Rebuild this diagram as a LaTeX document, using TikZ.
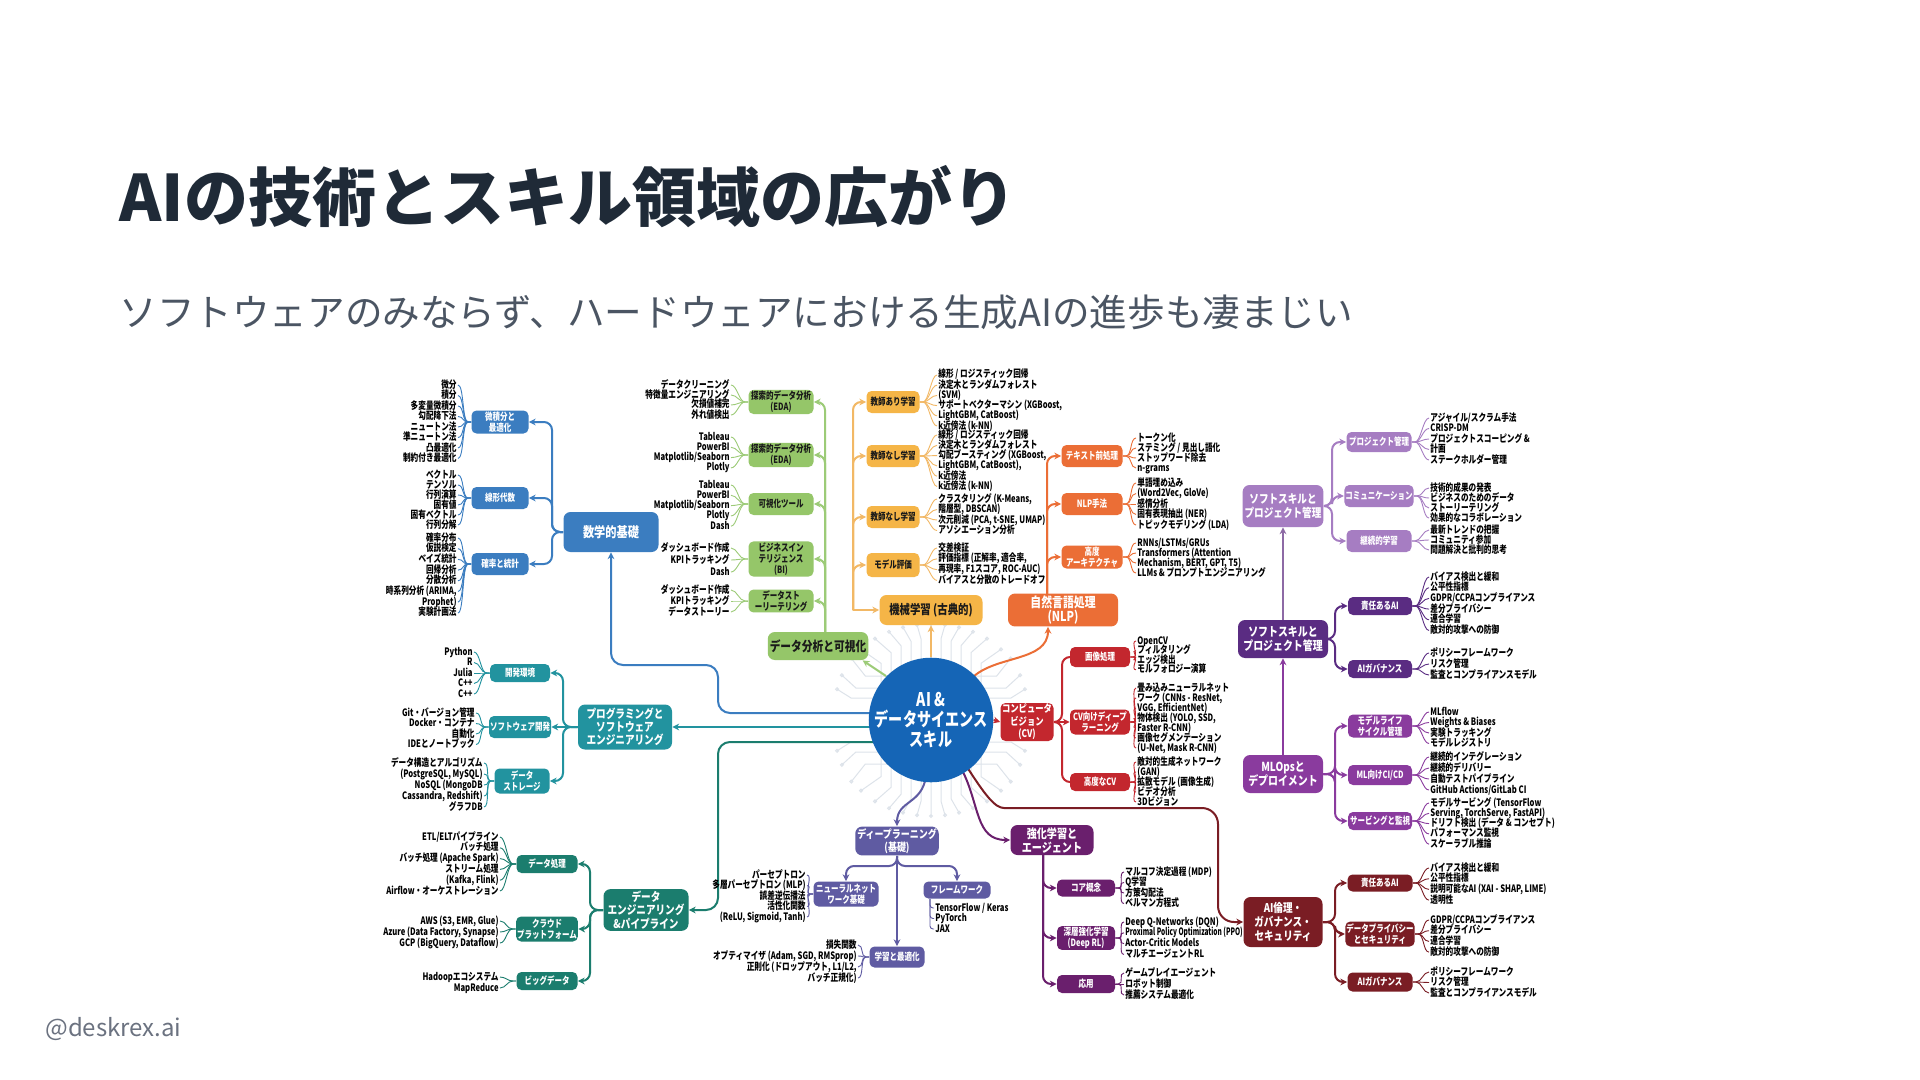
\documentclass[tikz,border=0pt]{standalone}
\usepackage{fontspec}
\setmainfont{Noto Sans CJK JP}
\newfontfamily\mapf[FakeStretch=0.75]{Noto Sans CJK JP}
\newfontfamily\mapn[FakeStretch=0.64]{Noto Sans CJK JP}
\newfontfamily\mapg[FakeStretch=0.8]{Noto Sans CJK JP}
\usetikzlibrary{arrows.meta,backgrounds}
\definecolor{mblue}{HTML}{3B7DC0}
\definecolor{pteal}{HTML}{22939F}
\definecolor{dteal}{HTML}{1B7D6E}
\definecolor{vgreen}{HTML}{95C669}
\definecolor{vline}{HTML}{9CCB77}
\definecolor{morange}{HTML}{F5B547}
\definecolor{mline}{HTML}{F2B865}
\definecolor{norange}{HTML}{EB6E36}
\definecolor{cvred}{HTML}{C3272E}
\definecolor{dlslate}{HTML}{5F5BA2}
\definecolor{rlpurple}{HTML}{6A1F6D}
\definecolor{emaroon}{HTML}{7A1D24}
\definecolor{slilac}{HTML}{A67DC2}
\definecolor{tpurple}{HTML}{5A2C82}
\definecolor{mopurple}{HTML}{8A3B9E}
\definecolor{cblue}{HTML}{1565B6}
\definecolor{titlec}{HTML}{1F2A37}
\definecolor{subc}{HTML}{4B5563}
\definecolor{footc}{HTML}{6B7280}
\definecolor{tracec}{HTML}{DDE3EA}
\definecolor{darktext}{HTML}{1A1A1A}
\newcommand\leaff{\mapf\bfseries\fontsize{5.1}{5.25}\selectfont}
\newcommand\narrowleaf{\mapn\bfseries}
\newcommand\subf{\mapf\bfseries\fontsize{5}{5.6}\selectfont}
\newcommand\mf[2]{\mapg\bfseries\fontsize{#1}{#2}\selectfont}
\newcommand\cenf{\mapf\bfseries\fontsize{9.4}{9.8}\selectfont}
% right-aligned leaves (left of box)
\newcommand\leafR[7]{%
 \foreach \lt [count=\i] in {#7}{%
  \node[leaf,anchor=east] (#2-\i) at (#4,{#5+(\i-1)*#6}) {\lt};
  \draw[fan,#1] (#3.west) -- ++(-3,0) .. controls +(-6,0) and +(6,0) .. ([xshift=0.5pt]#2-\i.east);
 }}
% left-aligned leaves (right of box)
\newcommand\leafL[7]{%
 \foreach \lt [count=\i] in {#7}{%
  \node[leaf,anchor=west] (#2-\i) at (#4,{#5+(\i-1)*#6}) {\lt};
  \draw[fan,#1] (#3.east) -- ++(3,0) .. controls +(6,0) and +(-6,0) .. ([xshift=-0.5pt]#2-\i.west);
 }}
\begin{document}
\begin{tikzpicture}[x=0.5pt,y=-0.5pt,
 leaf/.style={font=\leaff, inner sep=0pt, text height=3.9pt, text depth=0.9pt, text=black},
 fan/.style={line width=0.45pt},
 bx/.style={fill=#1, rounded corners=2.5pt, inner sep=0.5pt, align=center, text=white, font=\subf},
 mbx/.style={fill=#1, rounded corners=3.5pt, inner sep=1pt, align=center, text=white},
 sz/.style 2 args={minimum width={#1*0.5pt}, minimum height={#2*0.5pt}},
 conn/.style={line width=1pt, rounded corners=4pt},
 arr/.style={-{Stealth[length=3.4pt,width=3.4pt]}},
 trace/.style={tracec, line width=0.5pt},
]
\useasboundingbox (0,0) rectangle (1920,1080);
\begin{pgfonlayer}{background}
\fill[white] (0,0) rectangle (1920,1080);
% faint circuit traces round the centre
\foreach \d in {-50,-40,-30,-20,-10,0,10,20,30,40,50}{
  \draw[trace] ({931+\d},{720-sqrt(3844-(\d)*(\d))}) -- ++(0,-20) -- ++({0.4*\d},-14) circle[radius=1.5];
  \draw[trace] ({931+\d},{720+sqrt(3844-(\d)*(\d))}) -- ++(0,20) -- ++({0.4*\d},14) circle[radius=1.5];
}
\foreach \d in {-44,-32,-22,22,32,44}{
  \draw[trace] ({931+sqrt(3844-(\d)*(\d))},{720+\d}) -- ++(22,0) -- ++(14,{0.4*\d}) circle[radius=1.5];
  \draw[trace] ({931-sqrt(3844-(\d)*(\d))},{720+\d}) -- ++(-22,0) -- ++(-14,{0.4*\d}) circle[radius=1.5];
}
\end{pgfonlayer}

% titles
\node[anchor=west, inner sep=0, text=titlec, font=\bfseries\fontsize{32}{36}\selectfont] (title) at (119,197) {AIの技術とスキル領域の広がり};
\node[anchor=west, inner sep=0, text=subc, font=\fontsize{18.8}{22}\selectfont] (subtitle) at (119,312) {ソフトウェアのみならず、ハードウェアにおける生成AIの進歩も凄まじい};
\node[anchor=west, inner sep=0, text=footc, font=\fontsize{12}{14}\selectfont] (footer) at (45,1029) {@deskrex.ai};

% centre
\node[circle, fill=cblue, minimum size=59pt, inner sep=0, align=center, text=white, font=\cenf] (c) at (931,720) {AI \&\\データサイエンス\\スキル};

% ---------- math
\node[mbx=mblue, sz={95}{40}, font=\mf{7}{7.5}] (m0) at (611,532) {数学的基礎};
\node[bx=mblue, sz={57}{23}] (m1) at (500,422) {微積分と\\最適化};
\node[bx=mblue, sz={57}{22}] (m2) at (500,498) {線形代数};
\node[bx=mblue, sz={57}{22}] (m3) at (500,564) {確率と統計};
\leafR{mblue}{m1l}{m1}{457}{385}{10.5}{微分,積分,多変量微積分,勾配降下法,ニュートン法,準ニュートン法,凸最適化,制約付き最適化}
\leafR{mblue}{m2l}{m2}{457}{475}{10}{ベクトル,テンソル,行列演算,固有値,固有ベクトル,行列分解}
\leafR{mblue}{m3l}{m3}{457}{538}{10.7}{確率分布,仮説検定,ベイズ統計,回帰分析,分散分析,{時系列分析 (ARIMA,},Prophet),実験計画法}

% ---------- programming
\node[mbx=pteal, sz={94}{45}, font=\mf{6}{6.6}] (p0) at (625,727) {プログラミングと\\ソフトウェア\\エンジニアリング};
\node[bx=pteal, sz={60}{18}] (p1) at (520,673) {開発環境};
\node[bx=pteal, sz={60}{22}] (p2) at (520,727) {ソフトウェア開発};
\node[bx=pteal, sz={55}{25}] (p3) at (522,781) {データ\\ストレージ};
\leafR{pteal}{p1l}{p1}{473}{652}{10.5}{Python,R,Julia,C++,C++}
\leafR{pteal}{p2l}{p2}{475}{713}{10.5}{Git・バージョン管理,Docker・コンテナ,自動化,IDEとノートブック}
\leafR{pteal}{p3l}{p3}{483}{763}{11}{データ構造とアルゴリズム,{(PostgreSQL, MySQL)},{NoSQL (MongoDB},{Cassandra, Redshift)},グラフDB}

% ---------- data engineering
\node[mbx=dteal, sz={85}{41}, font=\mf{6}{6.6}] (d0) at (646,910) {データ\\エンジニアリング\\\&パイプライン};
\node[bx=dteal, sz={61}{18}] (d1) at (547,864) {データ処理};
\node[bx=dteal, sz={61}{25}] (d2) at (547,929) {クラウド\\プラットフォーム};
\node[bx=dteal, sz={61}{18}] (d3) at (547,981) {ビッグデータ};
\leafR{dteal}{d1l}{d1}{499}{837}{10.8}{ETL/ELTパイプライン,バッチ処理,{バッチ処理 (Apache Spark)},ストリーム処理,{(Kafka, Flink)},Airflow・オーケストレーション}
\leafR{dteal}{d2l}{d2}{499}{921}{11}{{AWS (S3, EMR, Glue)},{Azure (Data Factory, Synapse)},{GCP (BigQuery, Dataflow)}}
\leafR{dteal}{d3l}{d3}{499}{977}{11}{Hadoopエコシステム,MapReduce}

% ---------- data analysis & viz
\node[mbx=vgreen, sz={100}{28}, text=darktext, font=\mf{6.7}{7}] (v0) at (818,646) {データ分析と可視化};
\node[bx=vgreen, text=darktext, sz={65}{21}] (v1) at (781,402) {探索的データ分析\\(EDA)};
\node[bx=vgreen, text=darktext, sz={65}{22}] (v2) at (781,455) {探索的データ分析\\(EDA)};
\node[bx=vgreen, text=darktext, sz={65}{22}] (v3) at (781,504) {可視化ツール};
\node[bx=vgreen, text=darktext, sz={65}{33}] (v4) at (781,559) {ビジネスイン\\テリジェンス\\(BI)};
\node[bx=vgreen, text=darktext, sz={65}{22}] (v5) at (781,601) {データスト\\ーリーテリング};
\leafR{vline}{v1l}{v1}{730}{385}{10}{データクリーニング,特徴量エンジニアリング,欠損値補完,外れ値検出}
\leafR{vline}{v2l}{v2}{730}{437}{10.3}{Tableau,PowerBI,Matplotlib/Seaborn,Plotly}
\leafR{vline}{v3l}{v3}{730}{485}{10.3}{Tableau,PowerBI,Matplotlib/Seaborn,Plotly,Dash}
\leafR{vline}{v4l}{v4}{730}{548}{12}{ダッシュボード作成,KPIトラッキング,Dash}
\leafR{vline}{v5l}{v5}{730}{590}{11}{ダッシュボード作成,KPIトラッキング,データストーリー}

% ---------- machine learning
\node[mbx=morange, sz={103}{30}, text=darktext, font=\mf{6.5}{7}] (ml0) at (931,610) {機械学習 (古典的)};
\node[bx=morange, text=darktext, sz={53}{22}] (ml1) at (893,402) {教師あり学習};
\node[bx=morange, text=darktext, sz={53}{22}] (ml2) at (893,456) {教師なし学習};
\node[bx=morange, text=darktext, sz={53}{22}] (ml3) at (893,517) {教師なし学習};
\node[bx=morange, text=darktext, sz={53}{24}] (ml4) at (893,565) {モデル評価};
\leafL{mline}{ml1l}{ml1}{938}{375}{10.2}{線形 / ロジスティック回帰,決定木とランダムフォレスト,(SVM),{サポートベクターマシン (XGBoost,},{LightGBM, CatBoost)},k近傍法 (k-NN)}
\leafL{mline}{ml2l}{ml2}{938}{435}{10.3}{線形 / ロジスティック回帰,決定木とランダムフォレスト,{勾配ブースティング (XGBoost,},{LightGBM, CatBoost),},k近傍法,k近傍法 (k-NN)}
\leafL{mline}{ml3l}{ml3}{938}{499}{10.5}{{クラスタリング (K-Means,},{階層型, DBSCAN)},{次元削減 (PCA, t-SNE, UMAP)},アソシエーション分析}
\leafL{mline}{ml4l}{ml4}{938}{548}{10.8}{交差検証,{評価指標 (正解率, 適合率,},{再現率, F1スコア, ROC-AUC)},バイアスと分散のトレードオフ}

% ---------- NLP
\node[mbx=norange, sz={110}{30}, font=\mf{6.8}{7.2}] (n0) at (1063,610) {自然言語処理\\(NLP)};
\node[bx=norange, sz={61}{22}] (n1) at (1092,456) {テキスト前処理};
\node[bx=norange, sz={61}{22}] (n2) at (1092,504) {NLP手法};
\node[bx=norange, sz={61}{23}] (n3) at (1092,557) {高度\\アーキテクチャ};
\leafL{norange}{n1l}{n1}{1137}{438}{10}{トークン化,ステミング / 見出し語化,ストップワード除去,n-grams}
\leafL{norange}{n2l}{n2}{1137}{483}{10.5}{単語埋め込み,{(Word2Vec, GloVe)},感情分析,固有表現抽出 (NER),トピックモデリング (LDA)}
\leafL{norange}{n3l}{n3}{1137}{543}{10}{RNNs/LSTMs/GRUs,{Transformers (Attention},{Mechanism, BERT, GPT, T5)},LLMs \& プロンプトエンジニアリング}

% ---------- computer vision
\node[bx=cvred, sz={53}{38}, font=\mf{5.2}{6.2}] (cv0) at (1027,722) {コンピュータ\\ビジョン\\(CV)};
\node[bx=cvred, sz={60}{20}] (cv1) at (1100,657) {画像処理};
\node[bx=cvred, sz={60}{25}] (cv2) at (1100,722) {CV向けディープ\\ラーニング};
\node[bx=cvred, sz={60}{18}] (cv3) at (1100,782) {高度なCV};
\leafL{cvred}{cv1l}{cv1}{1137}{641}{9.6}{OpenCV,フィルタリング,エッジ検出,モルフォロジー演算}
\leafL{cvred}{cv2l}{cv2}{1137}{688}{10}{畳み込みニューラルネット,{ワーク (CNNs - ResNet,},{VGG, EfficientNet)},{物体検出 (YOLO, SSD,},Faster R-CNN),画像セグメンテーション,{(U-Net, Mask R-CNN)}}
\leafL{cvred}{cv3l}{cv3}{1137}{762}{10}{敵対的生成ネットワーク,(GAN),拡散モデル (画像生成),ビデオ分析,3Dビジョン}

% ---------- deep learning
\node[mbx=dlslate, sz={83}{28}, font=\mf{5.6}{6.4}] (dl0) at (897,841) {ディープラーニング\\(基礎)};
\node[bx=dlslate, sz={65}{25}] (dl1) at (846,894) {ニューラルネット\\ワーク基礎};
\node[bx=dlslate, sz={67}{17}] (dl2) at (957,890) {フレームワーク};
\node[bx=dlslate, sz={55}{21}] (dl3) at (897,957) {学習と最適化};
\leafR{dlslate}{dl1l}{dl1}{806}{875}{10.5}{パーセプトロン,多層パーセプトロン (MLP),誤差逆伝播法,活性化関数,{(ReLU, Sigmoid, Tanh)}}
\leafR{dlslate}{dl3l}{dl3}{857}{945}{11}{損失関数,{オプティマイザ (Adam, SGD, RMSprop)},{正則化 (ドロップアウト, L1/L2,},バッチ正規化)}
\coordinate (dl2b) at (930,899);
\foreach \lt [count=\i] in {TensorFlow / Keras,PyTorch,JAX}{
  \node[leaf,anchor=west] (dl2l-\i) at (935,{908+(\i-1)*10.5}) {\lt};
  \draw[fan,dlslate,rounded corners=1.5pt] (dl2b) |- ([xshift=-0.5pt]dl2l-\i.west);
}

% ---------- reinforcement learning
\node[mbx=rlpurple, sz={83}{30}, font=\mf{6.3}{7}] (rl0) at (1052,840) {強化学習と\\エージェント};
\node[bx=rlpurple, sz={58}{17}] (rl1) at (1086,888) {コア概念};
\node[bx=rlpurple, sz={58}{23}] (rl2) at (1086,938) {深層強化学習\\(Deep RL)};
\node[bx=rlpurple, sz={58}{18}] (rl3) at (1086,984) {応用};
\leafL{rlpurple}{rl1l}{rl1}{1125}{872}{10.5}{マルコフ決定過程 (MDP),Q学習,方策勾配法,ベルマン方程式}
\leafL{rlpurple}{rl2l}{rl2}{1125}{922}{10.8}{Deep Q-Networks (DQN),{{\narrowleaf Proximal Policy Optimization (PPO)}},Actor-Critic Models,マルチエージェントRL}
\leafL{rlpurple}{rl3l}{rl3}{1125}{973}{11}{ゲームプレイエージェント,ロボット制御,推薦システム最適化}

% ---------- AI ethics
\node[mbx=emaroon, sz={79}{50}, font=\mf{6}{7}] (e0) at (1283,922) {AI倫理・\\ガバナンス・\\セキュリティ};
\node[bx=emaroon, sz={65}{17}] (e1) at (1380,883) {責任あるAI};
\node[bx=emaroon, sz={65}{25}] (e2) at (1380,934) {データプライバシー\\とセキュリティ};
\node[bx=emaroon, sz={65}{19}] (e3) at (1380,982) {AIガバナンス};
\leafL{emaroon}{e1l}{e1}{1430}{868}{10.7}{バイアス検出と緩和,公平性指標,{説明可能なAI (XAI - SHAP, LIME)},透明性}
\leafL{emaroon}{e2l}{e2}{1430}{920}{10.7}{GDPR/CCPAコンプライアンス,差分プライバシー,連合学習,敵対的攻撃への防御}
\leafL{emaroon}{e3l}{e3}{1430}{972}{10.5}{ポリシーフレームワーク,リスク管理,監査とコンプライアンスモデル}

% ---------- soft skills (light)
\node[mbx=slilac, sz={79}{42}, font=\mf{6}{7}] (s0) at (1283,506) {ソフトスキルと\\プロジェクト管理};
\node[bx=slilac, sz={65}{20}] (s1) at (1379,442) {プロジェクト管理};
\node[bx=slilac, sz={65}{22}] (s2) at (1379,496) {コミュニケーション};
\node[bx=slilac, sz={65}{22}] (s3) at (1379,541) {継続的学習};
\leafL{slilac}{s1l}{s1}{1430}{418}{10.5}{アジャイル/スクラム手法,CRISP-DM,プロジェクトスコーピング \&,計画,ステークホルダー管理}
\leafL{slilac}{s2l}{s2}{1430}{488}{10}{技術的成果の発表,ビジネスのためのデータ,ストーリーテリング,効果的なコラボレーション}
\leafL{slilac}{s3l}{s3}{1430}{530}{10}{最新トレンドの把握,コミュニティ参加,問題解決と批判的思考}

% ---------- soft skills (dark)
\node[mbx=tpurple, sz={90}{38}, font=\mf{6.2}{7}] (t0) at (1283,639) {ソフトスキルと\\プロジェクト管理};
\node[bx=tpurple, sz={64}{18}] (t1) at (1380,606) {責任あるAI};
\node[bx=tpurple, sz={64}{18}] (t2) at (1380,669) {AIガバナンス};
\leafL{tpurple}{t1l}{t1}{1430}{577}{10.7}{バイアス検出と緩和,公平性指標,GDPR/CCPAコンプライアンス,差分プライバシー,連合学習,敵対的攻撃への防御}
\leafL{tpurple}{t2l}{t2}{1430}{653}{11}{ポリシーフレームワーク,リスク管理,監査とコンプライアンスモデル}

% ---------- MLOps
\node[mbx=mopurple, sz={80}{38}, font=\mf{6.2}{7}] (mo0) at (1283,774) {MLOpsと\\デプロイメント};
\node[bx=mopurple, sz={64}{23}] (mo1) at (1380,726) {モデルライフ\\サイクル管理};
\node[bx=mopurple, sz={64}{20}] (mo2) at (1380,775) {ML向けCI/CD};
\node[bx=mopurple, sz={64}{18}] (mo3) at (1380,821) {サービングと監視};
\leafL{mopurple}{mo1l}{mo1}{1430}{712}{10.5}{MLflow,Weights \& Biases,実験トラッキング,モデルレジストリ}
\leafL{mopurple}{mo2l}{mo2}{1430}{757}{11}{継続的インテグレーション,継続的デリバリー,自動テストパイプライン,GitHub Actions/GitLab CI}
\leafL{mopurple}{mo3l}{mo3}{1430}{803}{10.3}{{モデルサービング (TensorFlow},{Serving, TorchServe, FastAPI)},{ドリフト検出 (データ \& コンセプト)},パフォーマンス監視,スケーラブル推論}

% ---------- connectors
\coordinate (mt) at (552,532);
\coordinate (pt) at (563,727);
\coordinate (dt) at (590,910);
\coordinate (vt) at (825,632);
\coordinate (mlt) at (853,610);
\coordinate (nt) at (1047,595);
\coordinate (cvt) at (1062,722);
\coordinate (dlj) at (897,866);
\coordinate (rlt) at (1043,855);
\coordinate (et) at (1335,922);
\coordinate (st) at (1332,506);
\coordinate (tt) at (1335,639);
\coordinate (mot) at (1335,774);
\coordinate (cvz) at (886,676);
\coordinate (cnl) at (972,678);
\coordinate (cdl) at (926,776);
\coordinate (crl) at (962,770);
\coordinate (cet) at (967,767);
\begin{pgfonlayer}{background}
% from centre
\draw[conn,mblue,arr,rounded corners=6pt] ([yshift=3.5pt]c.center) -- (718,713) -- (718,665) -- (611,665) -- (m0.south);
\draw[conn,pteal,arr] ([yshift=-3.5pt]c.center) -- (p0.east);
\draw[conn,dteal,arr,rounded corners=6pt] ([yshift=-11pt]c.center) -- (718,742) -- (718,910) -- (d0.east);
\draw[conn,vline,arr] (cvz) -- ([xshift=-3pt]v0.south east);
\draw[conn,mline,arr] (c.north) -- (ml0.south);
\draw[conn,norange,arr] (cnl) .. controls (995,655) and (1048,662) .. ([xshift=-7.5pt]n0.south);
\draw[conn,cvred,arr] (c.east) -- (cv0.west);
\draw[conn,dlslate,arr] (cdl) .. controls (922,805) and (897,800) .. (dl0.north);
\draw[conn,rlpurple,arr] (crl) .. controls (980,805) and (975,840) .. (rl0.west);
\draw[conn,emaroon,arr,rounded corners=8pt] (cet) .. controls (985,795) and (995,808) .. (1020,808) -- (1218,808) -- (1218,922) -- (e0.west);
% math
\draw[conn,mblue,arr] (m0.west) -- (mt) |- (m1.east);
\draw[conn,mblue,arr] (m0.west) -- (mt) |- (m2.east);
\draw[conn,mblue,arr] (m0.west) -- (mt) |- (m3.east);
% programming
\draw[conn,pteal,arr] (p0.west) -- (pt) |- (p1.east);
\draw[conn,pteal,arr] (p0.west) -- (p2.east);
\draw[conn,pteal,arr] (p0.west) -- (pt) |- (p3.east);
% data eng
\draw[conn,dteal,arr] (d0.west) -- (dt) |- (d1.east);
\draw[conn,dteal,arr] (d0.west) -- (dt) |- (d2.east);
\draw[conn,dteal,arr] (d0.west) -- (dt) |- (d3.east);
% viz
\foreach \k in {1,...,5} \draw[conn,vline,arr] (vt) |- (v\k.east);
% ML
\draw[conn,mline,arr] (mlt) -- (ml0.west);
\foreach \k in {1,...,4} \draw[conn,mline,arr] (mlt) |- (ml\k.west);
% NLP
\foreach \k in {1,2,3} \draw[conn,norange,arr] (nt) |- (n\k.west);
% CV
\draw[conn,cvred,arr] (cv0.east) -- (cvt) |- (cv1.west);
\draw[conn,cvred,arr] (cv0.east) -- (cv2.west);
\draw[conn,cvred,arr] (cv0.east) -- (cvt) |- (cv3.west);
% DL
\draw[conn,dlslate,arr] (dl0.south) -- (dlj) -| (dl1.north);
\draw[conn,dlslate,arr] (dl0.south) -- (dlj) -| (dl2.north);
\draw[conn,dlslate,arr] (dl0.south) -- (dl3.north);
% RL
\foreach \k in {1,2,3} \draw[conn,rlpurple,arr] (rlt) |- (rl\k.west);
% ethics
\draw[conn,emaroon,arr] (e0.east) -- (et) |- (e1.west);
\draw[conn,emaroon,arr] (e0.east) -- (et) |- (e2.west);
\draw[conn,emaroon,arr] (e0.east) -- (et) |- (e3.west);
% soft skills light
\draw[conn,slilac,arr] (s0.east) -- (st) |- (s1.west);
\draw[conn,slilac,arr] (s0.east) -- (st) |- (s2.west);
\draw[conn,slilac,arr] (s0.east) -- (st) |- (s3.west);
% soft skills dark
\draw[conn,tpurple,arr] (t0.east) -- (tt) |- (t1.west);
\draw[conn,tpurple,arr] (t0.east) -- (tt) |- (t2.west);
% MLOps
\draw[conn,mopurple,arr] (mo0.east) -- (mot) |- (mo1.west);
\draw[conn,mopurple,arr] (mo0.east) -- (mot) |- (mo2.west);
\draw[conn,mopurple,arr] (mo0.east) -- (mot) |- (mo3.west);
% vertical links
\draw[conn,mopurple,arr] (mo0.north) -- (t0.south);
\draw[conn,slilac!85!black,arr] (t0.north) -- (s0.south);
\end{pgfonlayer}
\end{tikzpicture}
\end{document}
